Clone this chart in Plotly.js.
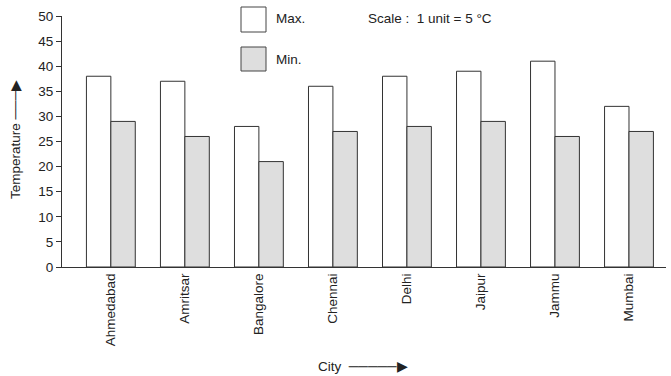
<!DOCTYPE html>
<html>
<head>
<meta charset="utf-8">
<script src="https://cdn.plot.ly/plotly-3.0.1.min.js"></script>
<style>html,body{margin:0;padding:0;background:#fff;}#chart{width:671px;height:376px;}</style>
</head>
<body>
<div id="chart"></div>
<script>
var cities = ["Ahmedabad", "Amritsar", "Bangalore", "Chennai", "Delhi", "Jaipur", "Jammu", "Mumbai"];
var maxTemp = [38, 37, 28, 36, 38, 39, 41, 32];
var minTemp = [29, 26, 21, 27, 28, 29, 26, 27];
var yTicks = [0, 5, 10, 15, 20, 25, 30, 35, 40, 45, 50];

var font = "Liberation Sans, Arial, sans-serif";
var traces = [
  {type: "bar", name: "Max.", x: cities, y: maxTemp,
   marker: {color: "#ffffff", line: {color: "#333333", width: 1}}},
  {type: "bar", name: "Min.", x: cities, y: minTemp,
   marker: {color: "#dedede", line: {color: "#333333", width: 1}}}
];
var layout = {
  width: 671, height: 376,
  margin: {l: 62, r: 5, t: 16, b: 109},
  paper_bgcolor: "#ffffff", plot_bgcolor: "#ffffff",
  showlegend: false,
  barmode: "group", bargap: 0.34, bargroupgap: 0,
  font: {family: font, size: 13.5, color: "#222222"},
  xaxis: {
    type: "category", range: [-0.66, 7.5],
    tickangle: -90, ticks: "", showline: true, linecolor: "#333333", linewidth: 1,
    showgrid: false, zeroline: false, tickfont: {size: 13.5},
    title: {text: ""}
  },
  yaxis: {
    range: [0, 50], tickvals: yTicks, ticktext: yTicks.map(String),
    ticks: "outside", ticklen: 5, tickcolor: "#333333",
    showline: true, linecolor: "#333333", linewidth: 1,
    showgrid: false, zeroline: false, tickfont: {size: 13.5},
    title: {text: ""}
  },
  shapes: [
    {type: "rect", xref: "paper", yref: "paper", x0: 179/604, x1: 204/604, y0: (267-7)/251, y1: (267-32)/251,
     line: {color: "#444444", width: 1}, fillcolor: "#ffffff"},
    {type: "rect", xref: "paper", yref: "paper", x0: 179/604, x1: 204/604, y0: (267-47)/251, y1: (267-71)/251,
     line: {color: "#444444", width: 1}, fillcolor: "#dedede"}
  ],
  annotations: [
    {xref: "paper", yref: "paper", x: (274-62)/604, y: (267-19)/251, xanchor: "left", yanchor: "middle",
     text: "Max.", showarrow: false, font: {size: 13.5}},
    {xref: "paper", yref: "paper", x: (274-62)/604, y: (267-60)/251, xanchor: "left", yanchor: "middle",
     text: "Min.", showarrow: false, font: {size: 13.5}},
    {xref: "paper", yref: "paper", x: (366-62)/604, y: (267-19)/251, xanchor: "left", yanchor: "middle",
     text: "Scale :  1 unit = 5 °C", showarrow: false, font: {size: 13.5}},
    {xref: "paper", yref: "paper", x: (15-62)/604, y: (267-140)/251, xanchor: "center", yanchor: "middle",
     text: "Temperature ───▶", textangle: -90, showarrow: false, font: {size: 13.5}},
    {xref: "paper", yref: "paper", x: (316-62)/604, y: (267-366)/251, xanchor: "left", yanchor: "middle",
     text: "City  ─────▶", showarrow: false, font: {size: 13.5}}
  ]
};
Plotly.newPlot("chart", traces, layout, {displayModeBar: false, staticPlot: true});
</script>
</body>
</html>
